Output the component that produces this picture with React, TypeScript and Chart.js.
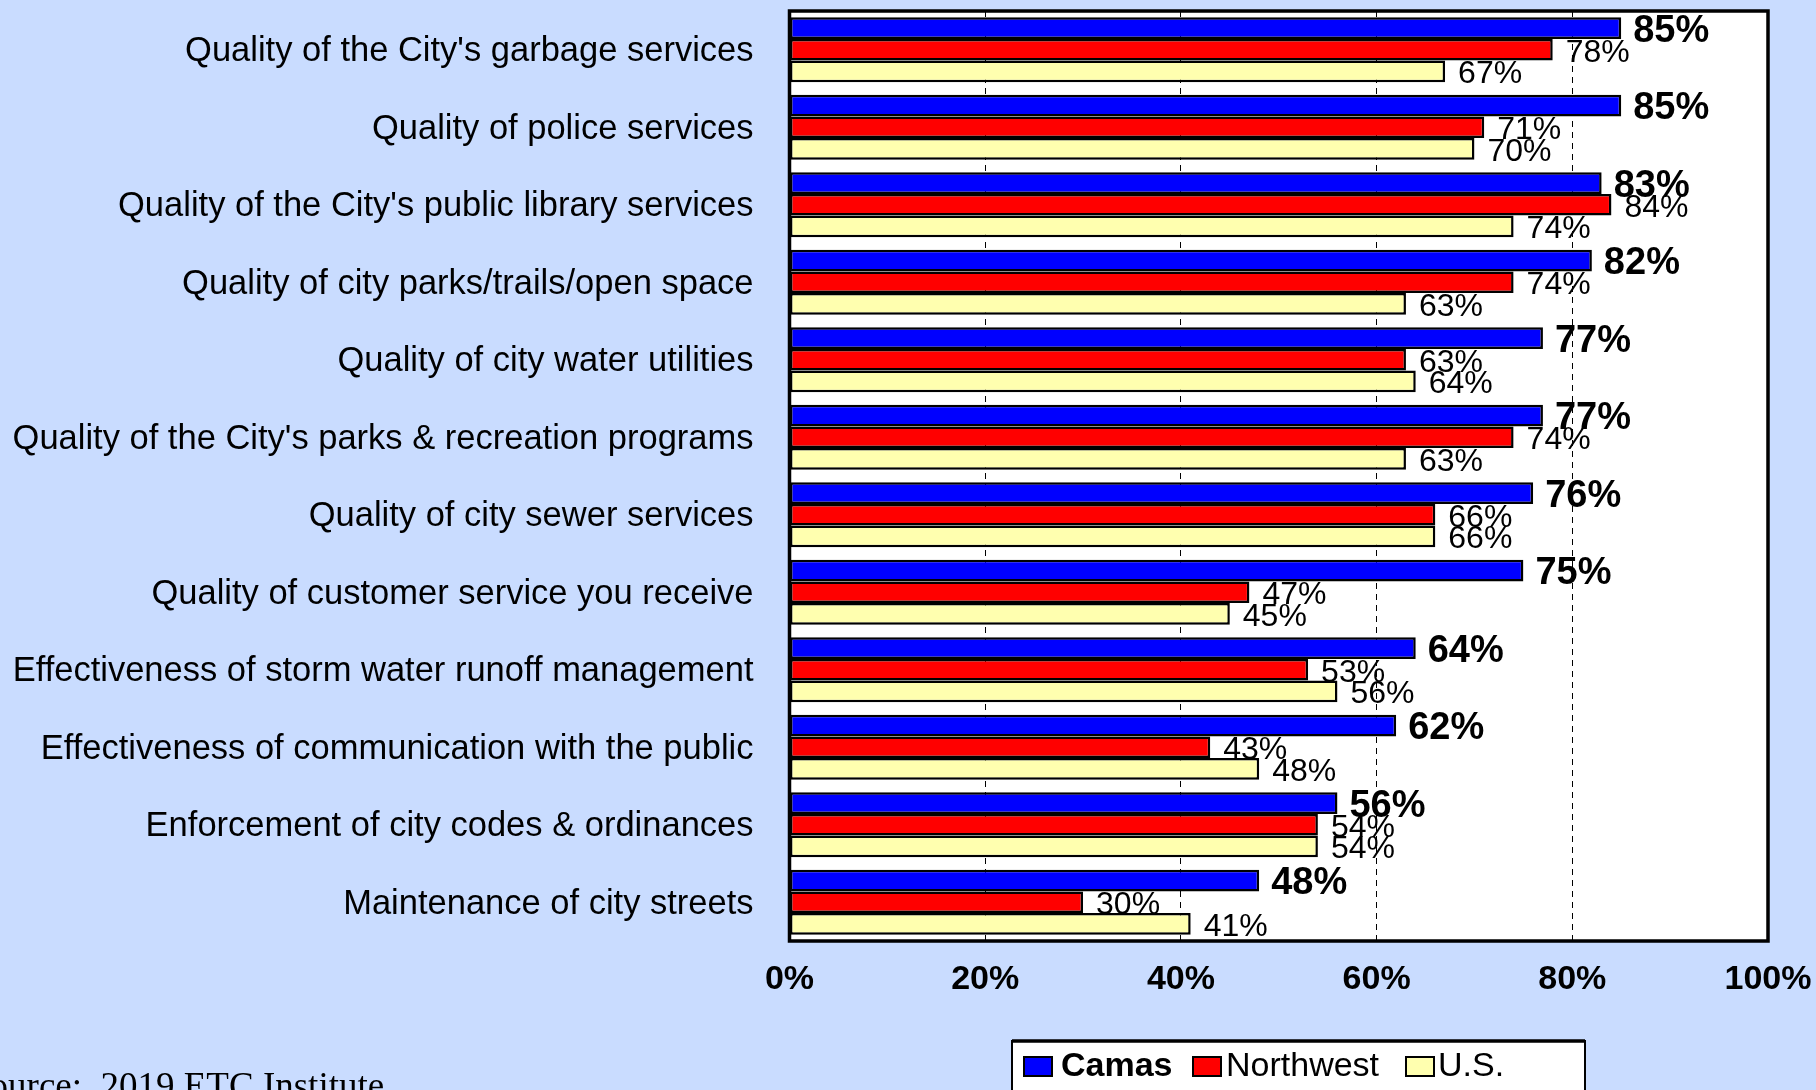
import React, { useEffect, useRef } from "react";
import { Chart, registerables } from "chart.js";

Chart.register(...registerables);

const categories = [
  "Quality of the City's garbage services",
  "Quality of police services",
  "Quality of the City's public library services",
  "Quality of city parks/trails/open space",
  "Quality of city water utilities",
  "Quality of the City's parks & recreation programs",
  "Quality of city sewer services",
  "Quality of customer service you receive",
  "Effectiveness of storm water runoff management",
  "Effectiveness of communication with the public",
  "Enforcement of city codes & ordinances",
  "Maintenance of city streets",
];

const camasValues = [85, 85, 83, 82, 77, 77, 76, 75, 64, 62, 56, 48];
const northwestValues = [78, 71, 84, 74, 63, 74, 66, 47, 53, 43, 54, 30];
const usValues = [67, 70, 74, 63, 64, 63, 66, 45, 56, 48, 54, 41];

const seriesNames = ["Camas", "Northwest", "U.S."];
const xTickValues = [0, 20, 40, 60, 80, 100];
const sourceText = "Source:  2019 ETC Institute";

const BG = "#C9DCFF";
const COLORS = ["#0000FF", "#FF0000", "#FFFFAF"];
const SANS = "Arial, 'Liberation Sans', sans-serif";
const SERIF = "'Times New Roman', 'Liberation Serif', serif";

const backgroundPlugin = {
  id: "bgPlugin",
  beforeDraw(chart: any) {
    const { ctx, chartArea } = chart;
    ctx.save();
    ctx.fillStyle = BG;
    ctx.fillRect(0, 0, chart.width, chart.height);
    ctx.fillStyle = "#FFFFFF";
    ctx.fillRect(chartArea.left, chartArea.top, chartArea.right - chartArea.left, chartArea.bottom - chartArea.top);
    ctx.restore();
  },
};

const labelsPlugin = {
  id: "valueLabels",
  afterDatasetsDraw(chart: any) {
    const { ctx, chartArea } = chart;
    ctx.save();
    // frame
    ctx.strokeStyle = "#000";
    ctx.lineWidth = 3.5;
    ctx.strokeRect(chartArea.left, chartArea.top, chartArea.right - chartArea.left, chartArea.bottom - chartArea.top);

    chart.data.datasets.forEach((ds: any, di: number) => {
      const meta = chart.getDatasetMeta(di);
      ctx.font = di === 0 ? `bold 38px ${SANS}` : `32px ${SANS}`;
      ctx.fillStyle = "#000";
      ctx.textAlign = "left";
      ctx.textBaseline = "middle";
      meta.data.forEach((el: any, i: number) => {
        const v = ds.data[i];
        ctx.fillText(`${v}%`, el.x + (di === 0 ? 12 : 13), el.y + 3);
      });
    });
    ctx.restore();
  },
  afterDraw(chart: any) {
    const { ctx } = chart;
    ctx.save();
    // legend box
    const bx = 1012, by = 1041, bw = 573;
    ctx.fillStyle = "#FFFFFF";
    ctx.fillRect(bx, by, bw, 60);
    ctx.strokeStyle = "#000";
    ctx.lineWidth = 2;
    ctx.beginPath();
    ctx.moveTo(bx, 1095);
    ctx.lineTo(bx, by);
    ctx.lineTo(bx + bw, by);
    ctx.lineTo(bx + bw, 1095);
    ctx.stroke();
    ctx.lineWidth = 3.5;
    ctx.beginPath();
    ctx.moveTo(bx, by);
    ctx.lineTo(bx + bw, by);
    ctx.stroke();

    const items = [
      { sx: 1023, tx: 1061, bold: true },
      { sx: 1192, tx: 1226, bold: false },
      { sx: 1405, tx: 1438, bold: false },
    ];
    chart.data.datasets.forEach((ds: any, i: number) => {
      const it = items[i];
      ctx.fillStyle = ds.backgroundColor;
      ctx.fillRect(it.sx, 1056, 30, 21);
      ctx.strokeStyle = "#000";
      ctx.lineWidth = 2;
      ctx.strokeRect(it.sx + 1, 1057, 28, 19);
      ctx.fillStyle = "#000";
      ctx.font = it.bold ? `bold 34px ${SANS}` : `34px ${SANS}`;
      ctx.textAlign = "left";
      ctx.textBaseline = "middle";
      ctx.fillText(ds.label, it.tx, 1067);
    });

    // source text
    ctx.font = `37px ${SERIF}`;
    ctx.fillStyle = "#000";
    ctx.textAlign = "left";
    ctx.textBaseline = "alphabetic";
    ctx.fillText(sourceText, -31, 1098);
    ctx.restore();
  },
};

export default function App() {
  const canvasRef = useRef<HTMLCanvasElement | null>(null);

  useEffect(() => {
    const canvas = canvasRef.current;
    if (!canvas) return;
    const valueSets = [camasValues, northwestValues, usValues];
    const chart = new Chart(canvas, {
      type: "bar",
      data: {
        labels: categories,
        datasets: valueSets.map((vals, i) => ({
          label: seriesNames[i],
          data: vals,
          backgroundColor: COLORS[i],
          borderColor: "#000000",
          borderWidth: 2.5,
          borderSkipped: false,
          categoryPercentage: 0.84,
          barPercentage: 1.0,
        })),
      },
      options: {
        indexAxis: "y",
        responsive: false,
        animation: false,
        devicePixelRatio: 1,
        layout: { padding: { top: 11, right: 48, left: 0, bottom: 0 } },
        plugins: {
          legend: { display: false },
          tooltip: { enabled: false },
        },
        scales: {
          x: {
            min: 0,
            max: 100,
            afterBuildTicks(scale: any) {
              scale.ticks = xTickValues.map((v) => ({ value: v }));
            },
            afterFit(scale: any) {
              scale.height = 149;
              scale.paddingLeft = 0;
              scale.paddingRight = 0;
              scale.paddingTop = 0;
              scale.paddingBottom = 0;
            },
            ticks: {
              callback: (v: any) => `${v}%`,
              font: { family: SANS, size: 34, weight: "bold" },
              color: "#000",
              padding: 18,
              maxRotation: 0,
              autoSkip: false,
            },
            grid: {
              display: true,
              drawTicks: false,
              color: "#000",
              lineWidth: 1,
            },
            border: { display: false, dash: [6, 5] },
          },
          y: {
            afterFit(scale: any) {
              scale.width = 789.5;
              scale.paddingLeft = 0;
              scale.paddingRight = 0;
              scale.paddingTop = 0;
              scale.paddingBottom = 0;
            },
            ticks: {
              font: { family: SANS, size: 34.5 },
              color: "#000",
              padding: 36,
              labelOffset: 2,
              autoSkip: false,
            },
            grid: { display: false, drawTicks: false },
            border: { display: false },
          },
        },
      },
      plugins: [backgroundPlugin, labelsPlugin],
    } as any);
    return () => chart.destroy();
  }, []);

  return (
    <div style={{ position: "fixed", left: 0, top: 0, width: 1816, height: 1090, background: BG }}>
      <canvas ref={canvasRef} width={1816} height={1090} style={{ display: "block", width: 1816, height: 1090 }} />
    </div>
  );
}
